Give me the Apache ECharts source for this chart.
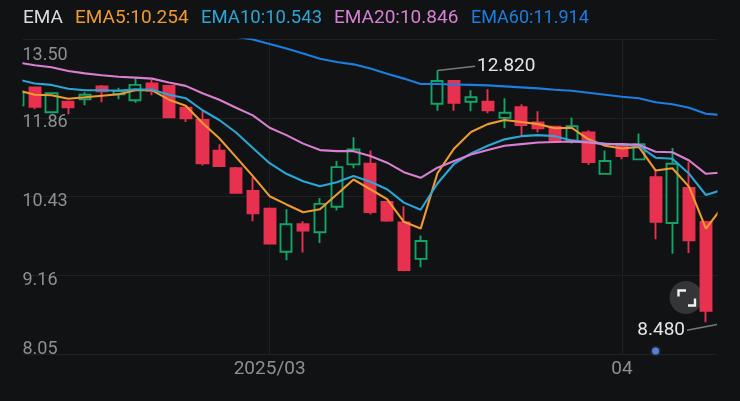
<!DOCTYPE html>
<html>
<head>
<meta charset="utf-8">
<style>html,body{margin:0;padding:0;background:#101214}#c{width:740px;height:401px}</style>
<script src="https://cdn.jsdelivr.net/npm/echarts@6/dist/echarts.min.js"></script>
</head>
<body>
<div id="c"></div>
<script>
// first candle index is -1 (it is cut by the left edge of the plot)
const firstIndex = -1;
// [open, close, low, high]
const candles = [
[12.11,12.37,12.05,12.41],[12.47,12.08,12.03,12.48],[11.97,12.35,11.97,12.35],[12.18,12.07,11.93,12.18],
[12.23,12.32,12.11,12.37],[12.49,12.39,12.17,12.52],[12.33,12.40,12.23,12.46],[12.21,12.52,12.16,12.65],
[12.55,12.40,12.31,12.62],[12.50,11.87,11.87,12.50],[12.06,11.85,11.78,12.06],[11.82,11.01,10.97,12.00],
[11.24,10.96,10.95,11.36],[10.92,10.49,10.49,10.94],[10.52,10.14,10.01,10.76],[10.22,9.65,9.64,10.24],
[9.52,9.96,9.39,10.21],[9.96,9.86,9.51,10.01],[9.83,10.30,9.66,10.40],[10.25,10.94,10.19,11.05],
[10.99,11.26,10.92,11.49],[11.00,10.16,10.12,11.24],[10.33,10.02,10.00,10.34],[9.99,9.24,9.22,10.26],
[9.41,9.69,9.28,9.78],[12.14,12.60,12.00,12.82],[12.60,12.16,12.00,12.60],[12.18,12.27,11.99,12.41],
[12.18,12.01,11.95,12.43],[11.86,11.96,11.66,12.25],[12.07,11.72,11.51,12.13],[11.77,11.66,11.58,11.99],
[11.69,11.43,11.40,11.69],[11.41,11.70,11.37,11.87],[11.58,11.03,10.98,11.62],[10.82,11.05,10.82,11.24],
[11.34,11.14,11.08,11.37],[11.08,11.36,11.08,11.56],[10.76,10.00,9.72,10.88],[9.98,11.00,9.49,11.29],
[10.57,9.70,9.50,11.03],[10.00,8.64,8.48,10.02]
];
const ema5 = [12.41,12.32,12.31,12.24,12.27,12.30,12.33,12.41,12.41,12.22,12.10,11.76,11.47,11.12,10.78,10.43,10.29,10.16,10.21,10.46,10.72,10.55,10.38,10.00,9.89,10.83,11.28,11.59,11.74,11.82,11.78,11.74,11.66,11.67,11.45,11.33,11.28,11.31,10.88,10.92,10.59,9.89,10.254];
const ema10 = [12.63,12.55,12.52,12.44,12.41,12.41,12.40,12.43,12.42,12.32,12.25,12.01,11.82,11.58,11.29,11.01,10.82,10.69,10.60,10.67,10.78,10.68,10.55,10.32,10.20,10.65,11.00,11.19,11.33,11.45,11.51,11.53,11.51,11.43,11.40,11.37,11.35,11.33,11.11,11.09,10.82,10.45,10.543];
const ema20 = [12.99,12.93,12.89,12.81,12.76,12.72,12.69,12.67,12.65,12.57,12.50,12.35,12.22,12.06,11.91,11.67,11.53,11.37,11.25,11.23,11.23,11.14,11.02,10.85,10.75,10.93,11.05,11.17,11.25,11.33,11.36,11.39,11.40,11.41,11.39,11.36,11.36,11.35,11.22,11.21,11.06,10.82,10.846];
// EMA60 runs above the plot before this index
const ema60Start = 12;
const ema60 = [13.55,13.49,13.39,13.29,13.18,13.07,13.00,12.95,12.86,12.75,12.65,12.54,12.54,12.53,12.52,12.51,12.49,12.47,12.45,12.42,12.40,12.36,12.32,12.28,12.25,12.17,12.13,12.06,11.94,11.914];
const yTicks = [13.5, 11.86, 10.43, 9.16, 8.05];
const xTickIndex = [14, 35];
const xTickLabels = ['2025/03', '04'];
const legendNames = ['EMA5', 'EMA10', 'EMA20', 'EMA60'];
const legendValues = ['10.254', '10.543', '10.846', '11.914'];
const highMark = {index: 24, value: 12.82, text: '12.820'};
const lowMark = {index: 40, value: 8.48, text: '8.480'};
const eventDot = [37, 8.09];

const BG = '#101214', GRID = '#1e2022', AXIS = '#8d8f91', UP = '#14a566', DOWN = '#e8314f';
const COLORS = {EMA5: '#ee9a33', EMA10: '#2ba6d6', EMA20: '#d97fd2', EMA60: '#1c7ee0'};
const FONT = 'Roboto';

const indexed = (arr, start) => arr.map((v, i) => [start + i, v]);
const emaSeries = (name, arr, start) => ({
  name, type: 'line', data: indexed(arr, start), showSymbol: false, symbol: 'none', smooth: false, clip: true,
  lineStyle: {color: COLORS[name], width: 2.1}, z: 6, animation: false
});

const chart = echarts.init(document.getElementById('c'), null, {renderer: 'canvas'});
const legendX = [75, 201, 334, 471];
const legendSize = [19, 18.5, 19, 18];
const leader = {color: '#77797b', width: 1.4, type: 'solid'};
const markLabel = {show: true, color: '#e4e5e6', fontFamily: FONT, fontSize: 19, distance: 2};

chart.setOption({
  animation: false,
  backgroundColor: BG,
  grid: {left: 22.5, right: 23, top: 39, bottom: 47},
  xAxis: {
    type: 'value', min: -0.727, max: 40.66,
    axisLine: {show: false},
    axisTick: {show: false, customValues: xTickIndex},
    axisLabel: {
      customValues: xTickIndex, color: AXIS, fontFamily: FONT, fontSize: 19, margin: 6,
      showMinLabel: true, showMaxLabel: true,
      formatter: v => xTickLabels[xTickIndex.indexOf(v)] || ''
    },
    splitLine: {show: true, lineStyle: {color: GRID, width: 1}}
  },
  yAxis: {
    type: 'log', logBase: 10, min: 8.05, max: 13.5, position: 'left',
    axisLine: {show: false},
    axisTick: {show: false, customValues: yTicks},
    axisLabel: {
      customValues: yTicks, inside: true, margin: 0, color: AXIS, fontFamily: FONT, fontSize: 18,
      showMinLabel: true, showMaxLabel: true,
      formatter: v => {
        const s = v.toFixed(2);
        if (s === '13.50') return '{t|' + s + '}';
        if (s === '8.05') return '{b|' + s + '}';
        return '{m|' + s + '}';
      },
      rich: {
        t: {color: AXIS, fontFamily: FONT, fontSize: 18, padding: [32, 0, 0, 0]},
        m: {color: AXIS, fontFamily: FONT, fontSize: 18, padding: [10, 0, 0, 0]},
        b: {color: AXIS, fontFamily: FONT, fontSize: 18, padding: [0, 0, 9, 0]}
      }
    },
    splitLine: {show: true, lineStyle: {color: GRID, width: 1}}
  },
  graphic: [
    {type: 'text', left: 23, top: 9, style: {text: 'EMA', fill: '#dcdddf', font: '19px ' + FONT}},
    ...legendNames.map((n, i) => ({
      type: 'text', left: legendX[i], top: 9,
      style: {text: n + ':' + legendValues[i], fill: COLORS[n], font: legendSize[i] + 'px ' + FONT}
    })),
    // the plot's edges cut the first candle and the line ends cleanly
    {type: 'rect', shape: {x: 0, y: 39, width: 22.4, height: 315}, style: {fill: BG}, z: 20},
    {type: 'rect', shape: {x: 717.5, y: 39, width: 22.5, height: 315}, style: {fill: BG}, z: 20},
    {type: 'rect', shape: {x: 23, y: 30, width: 695, height: 8.6}, style: {fill: BG}, z: 20},
    {type: 'circle', shape: {cx: 686, cy: 297.5, r: 16.5}, style: {fill: '#343536'}, z: 1},
    {type: 'polyline', shape: {points: [[678.5, 296.5], [678.5, 290.5], [686, 290.5]]}, style: {stroke: '#f2f2f2', lineWidth: 2.4, fill: null}, z: 2},
    {type: 'polyline', shape: {points: [[695, 298.5], [695, 305.5], [688, 305.5]]}, style: {stroke: '#f2f2f2', lineWidth: 2.4, fill: null}, z: 2}
  ],
  series: [
    {
      name: 'K', type: 'candlestick', barWidth: 11.6, clip: true, z: 5,
      data: candles.map((c, i) => [firstIndex + i, c[0], c[1], c[2], c[3]]),
      itemStyle: {color: BG, color0: DOWN, borderColor: UP, borderColor0: DOWN, borderWidth: 1.9},
      markLine: {
        silent: true, symbol: 'none', animation: false, precision: 4,
        lineStyle: leader,
        data: [
          [{coord: [highMark.index, highMark.value]},
           {coord: [highMark.index + 2.24, 12.91], label: {...markLabel, position: 'end', formatter: highMark.text}}],
          [{coord: [lowMark.index + 0.66, 8.449]},
           {coord: [lowMark.index - 1.13, 8.37], label: {...markLabel, position: 'end', formatter: lowMark.text}}]
        ]
      }
    },
    emaSeries('EMA5', ema5, firstIndex),
    emaSeries('EMA10', ema10, firstIndex),
    emaSeries('EMA20', ema20, firstIndex),
    emaSeries('EMA60', ema60, ema60Start),
    {
      type: 'scatter', data: [eventDot], symbolSize: 7, z: 4,
      itemStyle: {color: '#5f86e6', shadowBlur: 3, shadowColor: '#5f86e6'}
    }
  ]
});
</script>
</body>
</html>
